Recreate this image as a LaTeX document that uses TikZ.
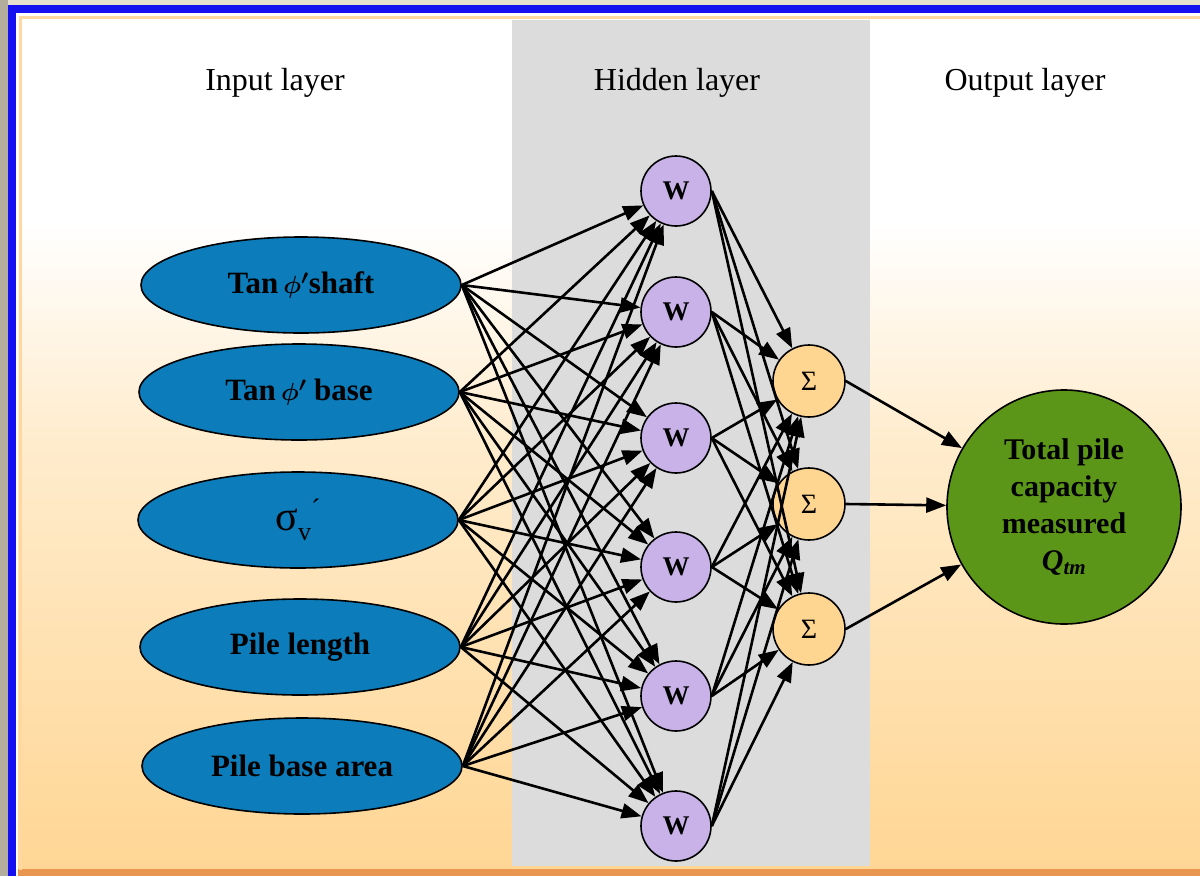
\documentclass[tikz,border=0pt]{standalone}
\usepackage{fontspec}
\setmainfont{Liberation Serif}
\usepackage{amsmath}
\usetikzlibrary{shapes.geometric,arrows.meta}
\definecolor{inblue}{RGB}{12,124,186}
\definecolor{wlav}{RGB}{200,178,232}
\definecolor{sorange}{RGB}{255,214,145}
\definecolor{ogreen}{RGB}{92,150,24}
\definecolor{band}{RGB}{220,220,220}
\definecolor{frameblue}{RGB}{20,16,240}
\definecolor{tanbg}{RGB}{180,172,156}
\definecolor{tantop}{RGB}{230,224,206}
\definecolor{peach}{RGB}{255,214,148}
\definecolor{peachmid}{RGB}{255,236,205}
\definecolor{deeporange}{RGB}{232,150,80}
\definecolor{lightorange}{RGB}{255,215,160}
\pgfdeclareverticalshading{bgshade}{100bp}{color(0bp)=(peach); color(25bp)=(peach); color(50bp)=(peachmid); color(63bp)=(white); color(100bp)=(white)}
\tikzset{
  title/.style={font=\fontsize{32}{32}\selectfont},
  inp/.style={ellipse, draw=black, line width=1.6pt, fill=inblue, minimum width=320pt, minimum height=96pt, inner sep=0pt, font=\fontsize{31}{31}\selectfont\bfseries\boldmath},
  wnode/.style={circle, draw=black, line width=1.6pt, fill=wlav, minimum size=70pt, inner sep=0pt, font=\fontsize{27}{27}\selectfont\bfseries},
  snode/.style={circle, draw=black, line width=1.6pt, fill=sorange, minimum size=72pt, inner sep=0pt, font=\fontsize{28}{28}\selectfont},
  onode/.style={circle, draw=black, line width=1.6pt, fill=ogreen, minimum size=234pt, inner sep=0pt, align=center, font=\fontsize{30}{37}\selectfont\bfseries},
  arr/.style={line width=2.6pt, -{Triangle[length=20pt,width=15pt]}}
}
\begin{document}
\begin{tikzpicture}[x=1pt,y=-1pt]
\useasboundingbox (0,0) rectangle (1200,876);
% frame and background
\fill[tanbg] (0,0) rectangle (1200,876);
\fill[tantop] (8,0) rectangle (1200,5);
\fill[frameblue] (8,5) rectangle (1200,876);
\fill[white] (16,13) rectangle (1200,876);
\shade[shading=bgshade] (18,16) rectangle (1200,870);
\fill[deeporange] (18,869) rectangle (1200,876);
\draw[lightorange, line width=3pt] (20,870) -- (20,17.5) -- (1200,17.5);
\fill[band] (512,20) rectangle (870,866);
% titles
\node[title] (t1) at (275,83) {Input layer};
\node[title] (t2) at (677,83) {Hidden layer};
\node[title] (t3) at (1025,83) {Output layer};
% input nodes
\node[inp] (in1) at (301,285) {Tan\,$\phi'$shaft};
\node[inp] (in2) at (299,392) {Tan\,$\phi'$ base};
\node[inp] (in3) at (298,520) {\mdseries{\fontsize{42}{42}\selectfont σ}\raisebox{-10pt}{\fontsize{26}{26}\selectfont v}\raisebox{12pt}{\fontsize{28}{28}\selectfont ´}};
\node[inp] (in4) at (300,647) {Pile length};
\node[inp] (in5) at (302,766) {Pile base area};
% hidden W
\node[wnode] (w1) at (676,191) {W};
\node[wnode] (w2) at (676,312) {W};
\node[wnode] (w3) at (676,438) {W};
\node[wnode] (w4) at (676,567) {W};
\node[wnode] (w5) at (676,696) {W};
\node[wnode] (w6) at (676,826) {W};
% sums
\node[snode] (s1) at (809,381) {Σ};
\node[snode] (s2) at (809,504) {Σ};
\node[snode] (s3) at (809,629) {Σ};
% output
\node[onode] (out) at (1064,507) {Total pile\\capacity\\measured\\\textit{Q}\textsubscript{\textit{tm}}};
% connectors
\foreach \i in {1,...,5}{
  \foreach \j in {1,...,6}{
    \draw[arr] (in\i.east) -- (w\j);
  }
}
\foreach \j in {1,...,6}{
  \foreach \k in {1,2,3}{
    \draw[arr] (w\j.east) -- (s\k);
  }
}
\foreach \k in {1,2,3}{
  \draw[arr] (s\k.east) -- (out);
}
\end{tikzpicture}
\end{document}
